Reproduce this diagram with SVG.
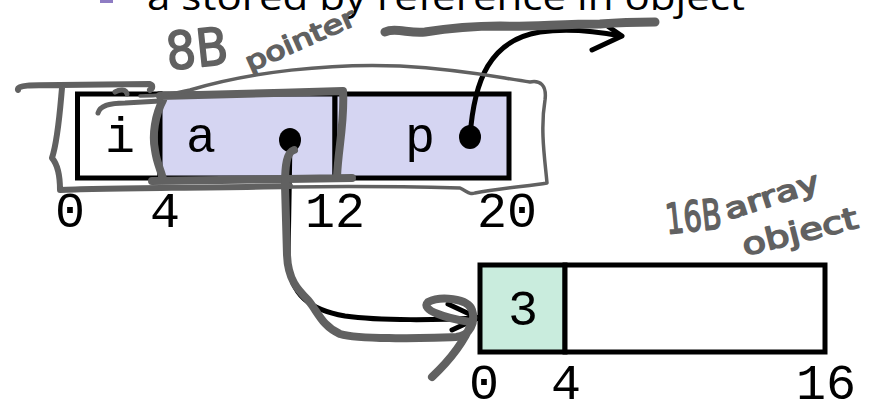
<svg xmlns="http://www.w3.org/2000/svg" width="874" height="400" viewBox="0 0 874 400">
<style>
.cell{stroke:#000;stroke-width:5}
.mono{font-family:"Liberation Mono","Courier New",monospace;font-size:50px;fill:#000;text-anchor:middle}
.ink{fill:none;stroke:#000;stroke-width:5;stroke-linecap:round;stroke-linejoin:round}
.pen{fill:none;stroke:#616161;stroke-linecap:round;stroke-linejoin:round}
.hand{font-family:"DejaVu Sans",sans-serif;fill:#616161;stroke:#616161;stroke-width:1.6;stroke-linejoin:round}
</style>
<rect width="874" height="400" fill="#fff"/>
<g id="title">
<rect x="100" y="0" width="13" height="3" fill="#8e7cc3"/>
<text x="147" y="10" font-family="Open Sans, sans-serif" font-size="37" textLength="598" lengthAdjust="spacingAndGlyphs">a stored by reference in object</text>
</g>
<g id="struct">
<g id="cell-i"><rect class="cell" x="77.5" y="94" width="82.5" height="84" fill="#fff"/><text class="mono" x="120" y="152">i</text></g>
<g id="cell-a"><rect class="cell" x="160" y="94" width="175" height="84" fill="#d5d5f2"/><text class="mono" x="201" y="152">a</text></g>
<g id="cell-p"><rect class="cell" x="335" y="94" width="174" height="84" fill="#d5d5f2"/><text class="mono" x="420" y="152">p</text></g>
<ellipse cx="290" cy="140" rx="11" ry="12" fill="#000"/>
<ellipse cx="470" cy="137" rx="11" ry="12" fill="#000"/>
</g>
<g id="struct-offsets">
<text class="mono" x="70" y="227">0</text>
<text class="mono" x="165" y="227">4</text>
<text class="mono" x="335" y="227">12</text>
<text class="mono" x="507" y="227">20</text>
</g>
<g id="array">
<g id="cell-3"><rect class="cell" x="480" y="265" width="85" height="87" fill="#c9ecdd"/><text class="mono" x="523" y="325">3</text></g>
<g id="cell-rest"><rect class="cell" x="565" y="265" width="260" height="87" fill="#fff"/></g>
<text class="mono" x="484" y="399">0</text>
<text class="mono" x="566" y="399">4</text>
<text class="mono" x="826" y="399">16</text>
</g>
<g id="connectors">
<path class="ink" d="M470 137 C474 80 490 40 540 32 C570 28 600 32 621 36"/>
<path class="ink" d="M606 25 L622 36 L592 50"/>
<path class="ink" d="M290 140 L288 260 C290 295 310 310 345 316 C380 321 440 320 478 318"/>
<path class="ink" d="M448 304 L478 318 L452 330"/>
</g>
<g id="annotations">
<path class="pen" stroke-width="9" d="M385 32 C395 27 410 34 425 32 C450 28 470 26 500 26 C530 27 560 24 600 24 C625 22 640 22 655 22"/>
<path class="pen" stroke-width="8" d="M160 96 C200 95 280 93 343 91 C345 120 338 150 337 177 M352 178 C300 179 200 180 152 181 M163 100 C155 115 152 135 155 150 C157 165 162 172 163 180"/>
<path class="pen" stroke-width="6" d="M18 90 C17 85 30 85 60 85 L150 84 C153 85 153 88 150 90 M62 88 C60 110 58 140 52 158 C58 165 60 175 60 190 C100 188 200 188 290 186"/>
<path class="pen" stroke-width="3.5" d="M290 187 C350 186 420 187 460 188 C468 192 470 195 475 193 C500 188 530 186 547 183 C545 160 540 130 545 100 C547 85 540 80 530 82 C500 78 470 70 400 66 C330 63 250 72 190 90 C170 95 150 96 140 96"/>
<path class="pen" stroke-width="5" d="M98 113 C100 106 108 103 125 103 L160 101 M115 92 C120 89 126 89 127 94"/>
<path class="pen" stroke-width="8" d="M294 150 C287 152 285 165 285 185 L287 255 C288 280 298 290 308 300 C318 312 322 326 340 334 C360 340 420 338 456 337 C470 336 476 322 472 310 C468 298 440 296 428 302 C420 310 445 318 470 322 M472 322 C465 340 450 360 432 377"/>
<text class="hand" font-size="52" textLength="62" lengthAdjust="spacingAndGlyphs" transform="translate(168 70) rotate(-6)">8B</text>
<text class="hand" font-size="26" textLength="118" lengthAdjust="spacingAndGlyphs" transform="translate(250 72) rotate(-24)">pointer</text>
<text class="hand" font-size="42" textLength="56" lengthAdjust="spacingAndGlyphs" transform="translate(667 234) rotate(-6)">16B</text>
<text class="hand" font-size="28" textLength="98" lengthAdjust="spacingAndGlyphs" transform="translate(728 220) rotate(-18)">array</text>
<text class="hand" font-size="30" textLength="118" lengthAdjust="spacingAndGlyphs" transform="translate(745 256) rotate(-14)">object</text>
</g>
</svg>
